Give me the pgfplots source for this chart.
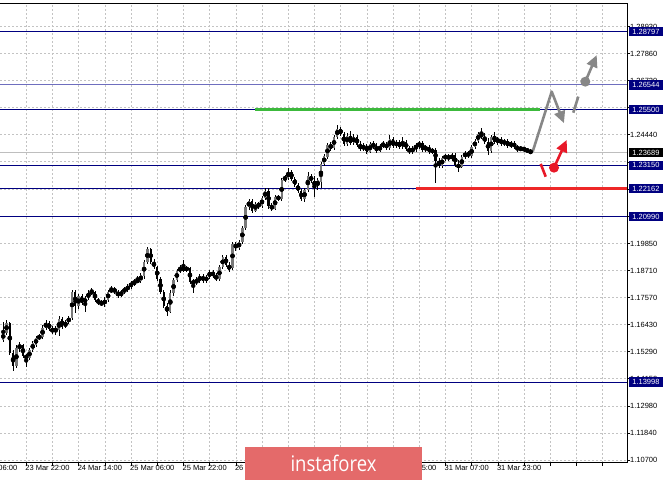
\documentclass[border=0pt]{standalone}
\usepackage{fontspec}
\setmainfont{Liberation Sans}
\newfontfamily\bannerfont{Open Sans}
\usepackage{graphicx}
\usepackage{pgfplots}
\pgfplotsset{compat=1.18}
\usepackage{pgfplotstable}
\usetikzlibrary{arrows.meta}

\definecolor{navy}{RGB}{0,0,128}
\definecolor{lightnavy}{RGB}{110,110,190}
\definecolor{gridgray}{RGB}{195,195,195}
\definecolor{bidgray}{RGB}{190,190,190}
\definecolor{bullgray}{RGB}{120,120,120}
\definecolor{lvlgreen}{RGB}{60,185,60}
\definecolor{lvlred}{RGB}{238,40,40}
\definecolor{arrowgray}{RGB}{135,135,135}
\definecolor{arrowred}{RGB}{232,24,40}
\definecolor{banner}{RGB}{228,106,106}

\newcommand{\tickfont}{\fontsize{7.5}{8}\selectfont}

% H1 bars: x = bar index, open high low close
\pgfplotstableread{
x o h l c
1 1.1578 1.1654 1.1570 1.1608
2 1.1608 1.1663 1.1599 1.1650
3 1.1650 1.1654 1.1515 1.1523
4 1.1523 1.1536 1.1447 1.1469
5 1.1469 1.1557 1.1460 1.1544
6 1.1544 1.1570 1.1528 1.1557
7 1.1557 1.1561 1.1502 1.1511
8 1.1511 1.1519 1.1464 1.1502
9 1.1502 1.1544 1.1494 1.1536
10 1.1536 1.1574 1.1528 1.1566
11 1.1557 1.1595 1.1549 1.1587
12 1.1587 1.1604 1.1578 1.1591
13 1.1591 1.1642 1.1582 1.1629
14 1.1629 1.1663 1.1620 1.1650
15 1.1650 1.1658 1.1616 1.1625
16 1.1625 1.1637 1.1604 1.1612
17 1.1612 1.1637 1.1599 1.1629
18 1.1620 1.1680 1.1595 1.1667
19 1.1667 1.1675 1.1625 1.1633
20 1.1633 1.1663 1.1629 1.1654
21 1.1654 1.1680 1.1646 1.1671
22 1.1671 1.1789 1.1663 1.1781
23 1.1781 1.1789 1.1692 1.1722
24 1.1722 1.1772 1.1709 1.1764
25 1.1764 1.1772 1.1726 1.1734
26 1.1734 1.1764 1.1696 1.1755
27 1.1755 1.1789 1.1747 1.1777
28 1.1777 1.1798 1.1768 1.1781
29 1.1781 1.1785 1.1739 1.1747
30 1.1747 1.1755 1.1726 1.1734
31 1.1734 1.1747 1.1722 1.1730
32 1.1730 1.1760 1.1718 1.1747
33 1.1747 1.1789 1.1739 1.1781
34 1.1781 1.1806 1.1777 1.1793
35 1.1793 1.1802 1.1772 1.1781
36 1.1781 1.1789 1.1755 1.1764
37 1.1764 1.1789 1.1760 1.1781
38 1.1781 1.1802 1.1772 1.1793
39 1.1789 1.1815 1.1781 1.1806
40 1.1802 1.1827 1.1793 1.1819
41 1.1815 1.1836 1.1806 1.1823
42 1.1823 1.1848 1.1819 1.1831
43 1.1827 1.1861 1.1819 1.1853
44 1.1848 1.1916 1.1836 1.1907
45 1.1907 1.1971 1.1899 1.1962
46 1.1962 1.1966 1.1899 1.1907
47 1.1907 1.1920 1.1878 1.1886
48 1.1886 1.1891 1.1827 1.1836
49 1.1836 1.1844 1.1772 1.1781
50 1.1781 1.1789 1.1713 1.1722
51 1.1722 1.1734 1.1680 1.1696
52 1.1696 1.1789 1.1692 1.1777
53 1.1777 1.1840 1.1764 1.1831
54 1.1831 1.1878 1.1823 1.1869
55 1.1869 1.1895 1.1861 1.1882
56 1.1882 1.1916 1.1865 1.1874
57 1.1874 1.1891 1.1865 1.1882
58 1.1882 1.1886 1.1815 1.1823
59 1.1823 1.1836 1.1777 1.1819
60 1.1819 1.1844 1.1810 1.1831
61 1.1827 1.1857 1.1819 1.1848
62 1.1848 1.1857 1.1819 1.1827
63 1.1827 1.1853 1.1819 1.1844
64 1.1844 1.1874 1.1836 1.1865
65 1.1865 1.1874 1.1840 1.1848
66 1.1848 1.1861 1.1827 1.1836
67 1.1836 1.1895 1.1827 1.1886
68 1.1886 1.1937 1.1878 1.1929
69 1.1929 1.1937 1.1886 1.1895
70 1.1895 1.1907 1.1865 1.1874
71 1.1882 1.1992 1.1874 1.1983
72 1.1983 1.1992 1.1954 1.1966
73 1.1966 1.2000 1.1958 1.1992
74 1.1992 1.2059 1.1983 1.2051
75 1.2051 1.2148 1.2042 1.2140
76 1.2140 1.2173 1.2127 1.2165
77 1.2165 1.2173 1.2114 1.2123
78 1.2123 1.2161 1.2118 1.2152
79 1.2152 1.2161 1.2131 1.2144
80 1.2144 1.2186 1.2135 1.2177
81 1.2177 1.2220 1.2169 1.2207
82 1.2207 1.2220 1.2131 1.2144
83 1.2144 1.2156 1.2123 1.2131
84 1.2131 1.2190 1.2127 1.2182
85 1.2182 1.2190 1.2165 1.2173
86 1.2173 1.2262 1.2165 1.2253
87 1.2253 1.2275 1.2245 1.2266
88 1.2262 1.2304 1.2253 1.2287
89 1.2287 1.2296 1.2249 1.2258
90 1.2258 1.2266 1.2224 1.2232
91 1.2232 1.2241 1.2199 1.2207
92 1.2207 1.2215 1.2165 1.2173
93 1.2173 1.2220 1.2161 1.2211
94 1.2211 1.2287 1.2203 1.2270
95 1.2270 1.2279 1.2241 1.2249
96 1.2249 1.2270 1.2182 1.2228
97 1.2228 1.2262 1.2211 1.2253
98 1.2245 1.2329 1.2220 1.2321
99 1.2321 1.2363 1.2312 1.2355
100 1.2351 1.2409 1.2342 1.2401
101 1.2405 1.2414 1.2376 1.2384
102 1.2388 1.2443 1.2380 1.2435
103 1.2435 1.2485 1.2426 1.2469
104 1.2469 1.2477 1.2439 1.2447
105 1.2447 1.2456 1.2397 1.2405
106 1.2405 1.2452 1.2397 1.2439
107 1.2439 1.2460 1.2401 1.2409
108 1.2409 1.2447 1.2401 1.2435
109 1.2435 1.2443 1.2393 1.2401
110 1.2401 1.2418 1.2376 1.2384
111 1.2384 1.2409 1.2376 1.2397
112 1.2397 1.2405 1.2363 1.2372
113 1.2372 1.2414 1.2367 1.2405
114 1.2405 1.2418 1.2384 1.2393
115 1.2393 1.2409 1.2367 1.2376
116 1.2376 1.2405 1.2372 1.2397
117 1.2397 1.2418 1.2388 1.2405
118 1.2405 1.2414 1.2380 1.2388
119 1.2388 1.2443 1.2380 1.2426
120 1.2426 1.2435 1.2388 1.2397
121 1.2397 1.2422 1.2388 1.2414
122 1.2414 1.2422 1.2384 1.2393
123 1.2393 1.2435 1.2384 1.2414
124 1.2414 1.2422 1.2376 1.2384
125 1.2384 1.2397 1.2363 1.2372
126 1.2372 1.2397 1.2363 1.2388
127 1.2388 1.2409 1.2372 1.2397
128 1.2397 1.2418 1.2384 1.2409
129 1.2409 1.2418 1.2372 1.2380
130 1.2380 1.2401 1.2372 1.2393
131 1.2393 1.2401 1.2363 1.2372
132 1.2372 1.2388 1.2363 1.2380
133 1.2380 1.2388 1.2241 1.2334
134 1.2334 1.2346 1.2304 1.2312
135 1.2312 1.2355 1.2304 1.2346
136 1.2346 1.2363 1.2334 1.2355
137 1.2355 1.2363 1.2334 1.2342
138 1.2342 1.2367 1.2334 1.2359
139 1.2359 1.2367 1.2308 1.2317
140 1.2317 1.2338 1.2287 1.2308
141 1.2308 1.2359 1.2304 1.2351
142 1.2351 1.2376 1.2342 1.2367
143 1.2367 1.2376 1.2346 1.2355
144 1.2355 1.2401 1.2346 1.2393
145 1.2393 1.2426 1.2384 1.2418
146 1.2418 1.2456 1.2409 1.2447
147 1.2452 1.2473 1.2426 1.2435
148 1.2435 1.2452 1.2405 1.2414
149 1.2414 1.2431 1.2359 1.2376
150 1.2376 1.2443 1.2367 1.2435
151 1.2439 1.2456 1.2405 1.2414
152 1.2414 1.2435 1.2401 1.2426
153 1.2426 1.2435 1.2397 1.2405
154 1.2405 1.2426 1.2397 1.2418
155 1.2418 1.2426 1.2388 1.2397
156 1.2397 1.2418 1.2388 1.2409
157 1.2409 1.2418 1.2384 1.2393
158 1.2393 1.2401 1.2372 1.2380
159 1.2380 1.2397 1.2376 1.2388
160 1.2388 1.2393 1.2372 1.2380
161 1.2380 1.2388 1.2367 1.2376
162 1.2376 1.2384 1.2363 1.2367
}\candles

\tikzset{lvl/.style={anchor=west, inner sep=0pt, minimum height=9.5pt,
  minimum width=34.5pt, text=white, font=\tickfont}}

\begin{document}
\begin{tikzpicture}
\begin{axis}[
    name=ax, at={(0pt,17.3pt)}, anchor=south west,
    width=627pt, height=459.7pt, scale only axis,
    xmin=0, xmax=191.45, ymin=1.1060, ymax=1.3000,
    axis line style={draw=none},
    xtick pos=bottom, ytick pos=right, yticklabel pos=right,
    tick align=outside, major tick length=3pt,
    tick style={black, line width=0.5pt},
    xtick={8,16,...,184}, xticklabels={},
    ytick={1.107,1.1184,1.1298,1.1415,1.1529,1.1643,1.1757,1.1871,1.1985,
           1.2099,1.2213,1.2330,1.2444,1.2558,1.2672,1.2786,1.2900},
    % labels that sit fully under a price box are left empty
    yticklabels={1.10700,1.11840,1.12980,1.14150,1.15290,1.16430,1.17570,
           1.18710,1.19850,{},{},{},1.24440,{},1.26720,
           1.27860,1.28930},
    yticklabel style={font=\tickfont, anchor=west, inner sep=0pt},
    grid=major,
    major grid style={gridgray, dash pattern=on 2pt off 2pt, line width=0.6pt},
]
% support / resistance levels
\addplot[navy, line width=0.8pt] coordinates {(0,1.28797) (191.45,1.28797)};
\addplot[lightnavy, line width=0.8pt] coordinates {(0,1.26544) (191.45,1.26544)};
\addplot[navy, line width=0.8pt] coordinates {(0,1.25500) (191.45,1.25500)};
\addplot[bidgray, line width=0.8pt] coordinates {(0,1.23689) (191.45,1.23689)};
\addplot[navy, line width=0.8pt] coordinates {(0,1.23150) (191.45,1.23150)};
\addplot[navy, line width=0.8pt] coordinates {(0,1.22162) (191.45,1.22162)};
\addplot[navy, line width=0.8pt] coordinates {(0,1.20990) (191.45,1.20990)};
\addplot[navy, line width=0.8pt] coordinates {(0,1.13998) (191.45,1.13998)};

% wicks
\addplot[only marks, mark=none, error bars/.cd, y dir=both, y explicit,
  error mark=none, error bar style={black, line width=0.7pt}]
  table[x=x, y expr={(\thisrow{h}+\thisrow{l})/2},
        y error expr={(\thisrow{h}-\thisrow{l})/2}] {\candles};
% bull bodies
\addplot[only marks, mark=none, error bars/.cd, y dir=both, y explicit,
  error mark=none, error bar style={bullgray, line width=2.3pt}]
  table[x=x, y expr={(\thisrow{o}+\thisrow{c})/2},
        y error expr={(\thisrow{c}>\thisrow{o})*(\thisrow{c}-\thisrow{o})/2}] {\candles};
% bear bodies
\addplot[only marks, mark=none, error bars/.cd, y dir=both, y explicit,
  error mark=none, error bar style={black, line width=2.3pt}]
  table[x=x, y expr={(\thisrow{o}+\thisrow{c})/2},
        y error expr={(\thisrow{o}>\thisrow{c})*(\thisrow{o}-\thisrow{c})/2}] {\candles};

% key levels
\addplot[lvlgreen, line width=3pt] coordinates {(77.86,1.2550) (164.9,1.2550)};
\addplot[lvlred, line width=3pt] coordinates {(127.0,1.22162) (191.45,1.22162)};

% forecast arrows
\draw[arrowgray, line width=2.6pt, line join=round, -{Triangle[length=12pt,width=11pt]}]
  (axis cs:162.66,1.2373) -- (axis cs:168.46,1.2626) -- (axis cs:172.2,1.2493);
\draw[arrowgray, line width=2.6pt] (axis cs:175.05,1.2537) -- (axis cs:176.58,1.2605);
\fill[arrowgray] (axis cs:178.72,1.2668) circle[radius=5pt];
\draw[arrowgray, line width=2.6pt, -{Triangle[length=12pt,width=11pt]}]
  (axis cs:178.72,1.2668) -- (axis cs:182.2,1.2780);
\draw[arrowred, line width=2.6pt] (axis cs:165.1,1.2321) -- (axis cs:166.63,1.2267);
\fill[arrowred] (axis cs:169.16,1.2305) circle[radius=5pt];
\draw[arrowred, line width=2.6pt, -{Triangle[length=12pt,width=11pt]}]
  (axis cs:169.16,1.2305) -- (axis cs:173.04,1.2422);

\coordinate (L1) at (axis cs:0,1.28797);
\coordinate (L2) at (axis cs:0,1.26544);
\coordinate (L3) at (axis cs:0,1.25500);
\coordinate (L4) at (axis cs:0,1.23689);
\coordinate (L5) at (axis cs:0,1.23150);
\coordinate (L6) at (axis cs:0,1.22162);
\coordinate (L7) at (axis cs:0,1.20990);
\coordinate (L8) at (axis cs:0,1.13998);
\end{axis}

\draw[black, line width=0.8pt] (ax.north west) -- (ax.north east) -- (ax.south east) -- (ax.south west);

% price boxes
\node[lvl, fill=navy] at ([xshift=628.5pt]L1) {1.28797};
\node[lvl, fill=navy] at ([xshift=628.5pt]L2) {1.26544};
\node[lvl, fill=navy] at ([xshift=628.5pt]L3) {1.25500};
\node[lvl, fill=black] at ([xshift=628.5pt]L4) {1.23689};
\node[lvl, fill=navy] at ([xshift=628.5pt]L5) {1.23150};
\node[lvl, fill=navy] at ([xshift=628.5pt]L6) {1.22162};
\node[lvl, fill=navy] at ([xshift=628.5pt]L7) {1.20990};
\node[lvl, fill=navy] at ([xshift=628.5pt]L8) {1.13998};

% time labels (those fully under the watermark are not drawn)
\foreach \px/\t in {-27.2/23 Mar 06:00, 25.2/23 Mar 22:00, 77.6/24 Mar 14:00,
    130.0/25 Mar 06:00, 182.4/25 Mar 22:00, 234.8/26 Mar 14:00,
    392.0/30 Mar 15:00, 444.4/31 Mar 07:00, 496.8/31 Mar 23:00}
  \node[font=\tickfont, anchor=north west, inner sep=0pt] at (\px pt,15pt) {\t};

% watermark
\fill[banner] (245pt,0pt) rectangle (422pt,33pt);
\node[text=white, inner sep=0pt, font=\bannerfont\fontsize{21.5}{22}\selectfont]
  at (333.5pt,17pt) {\scalebox{0.86}[1]{instaforex}};

\pgfresetboundingbox
\useasboundingbox (0pt,0pt) rectangle (665pt,480pt);
\end{tikzpicture}
\end{document}
